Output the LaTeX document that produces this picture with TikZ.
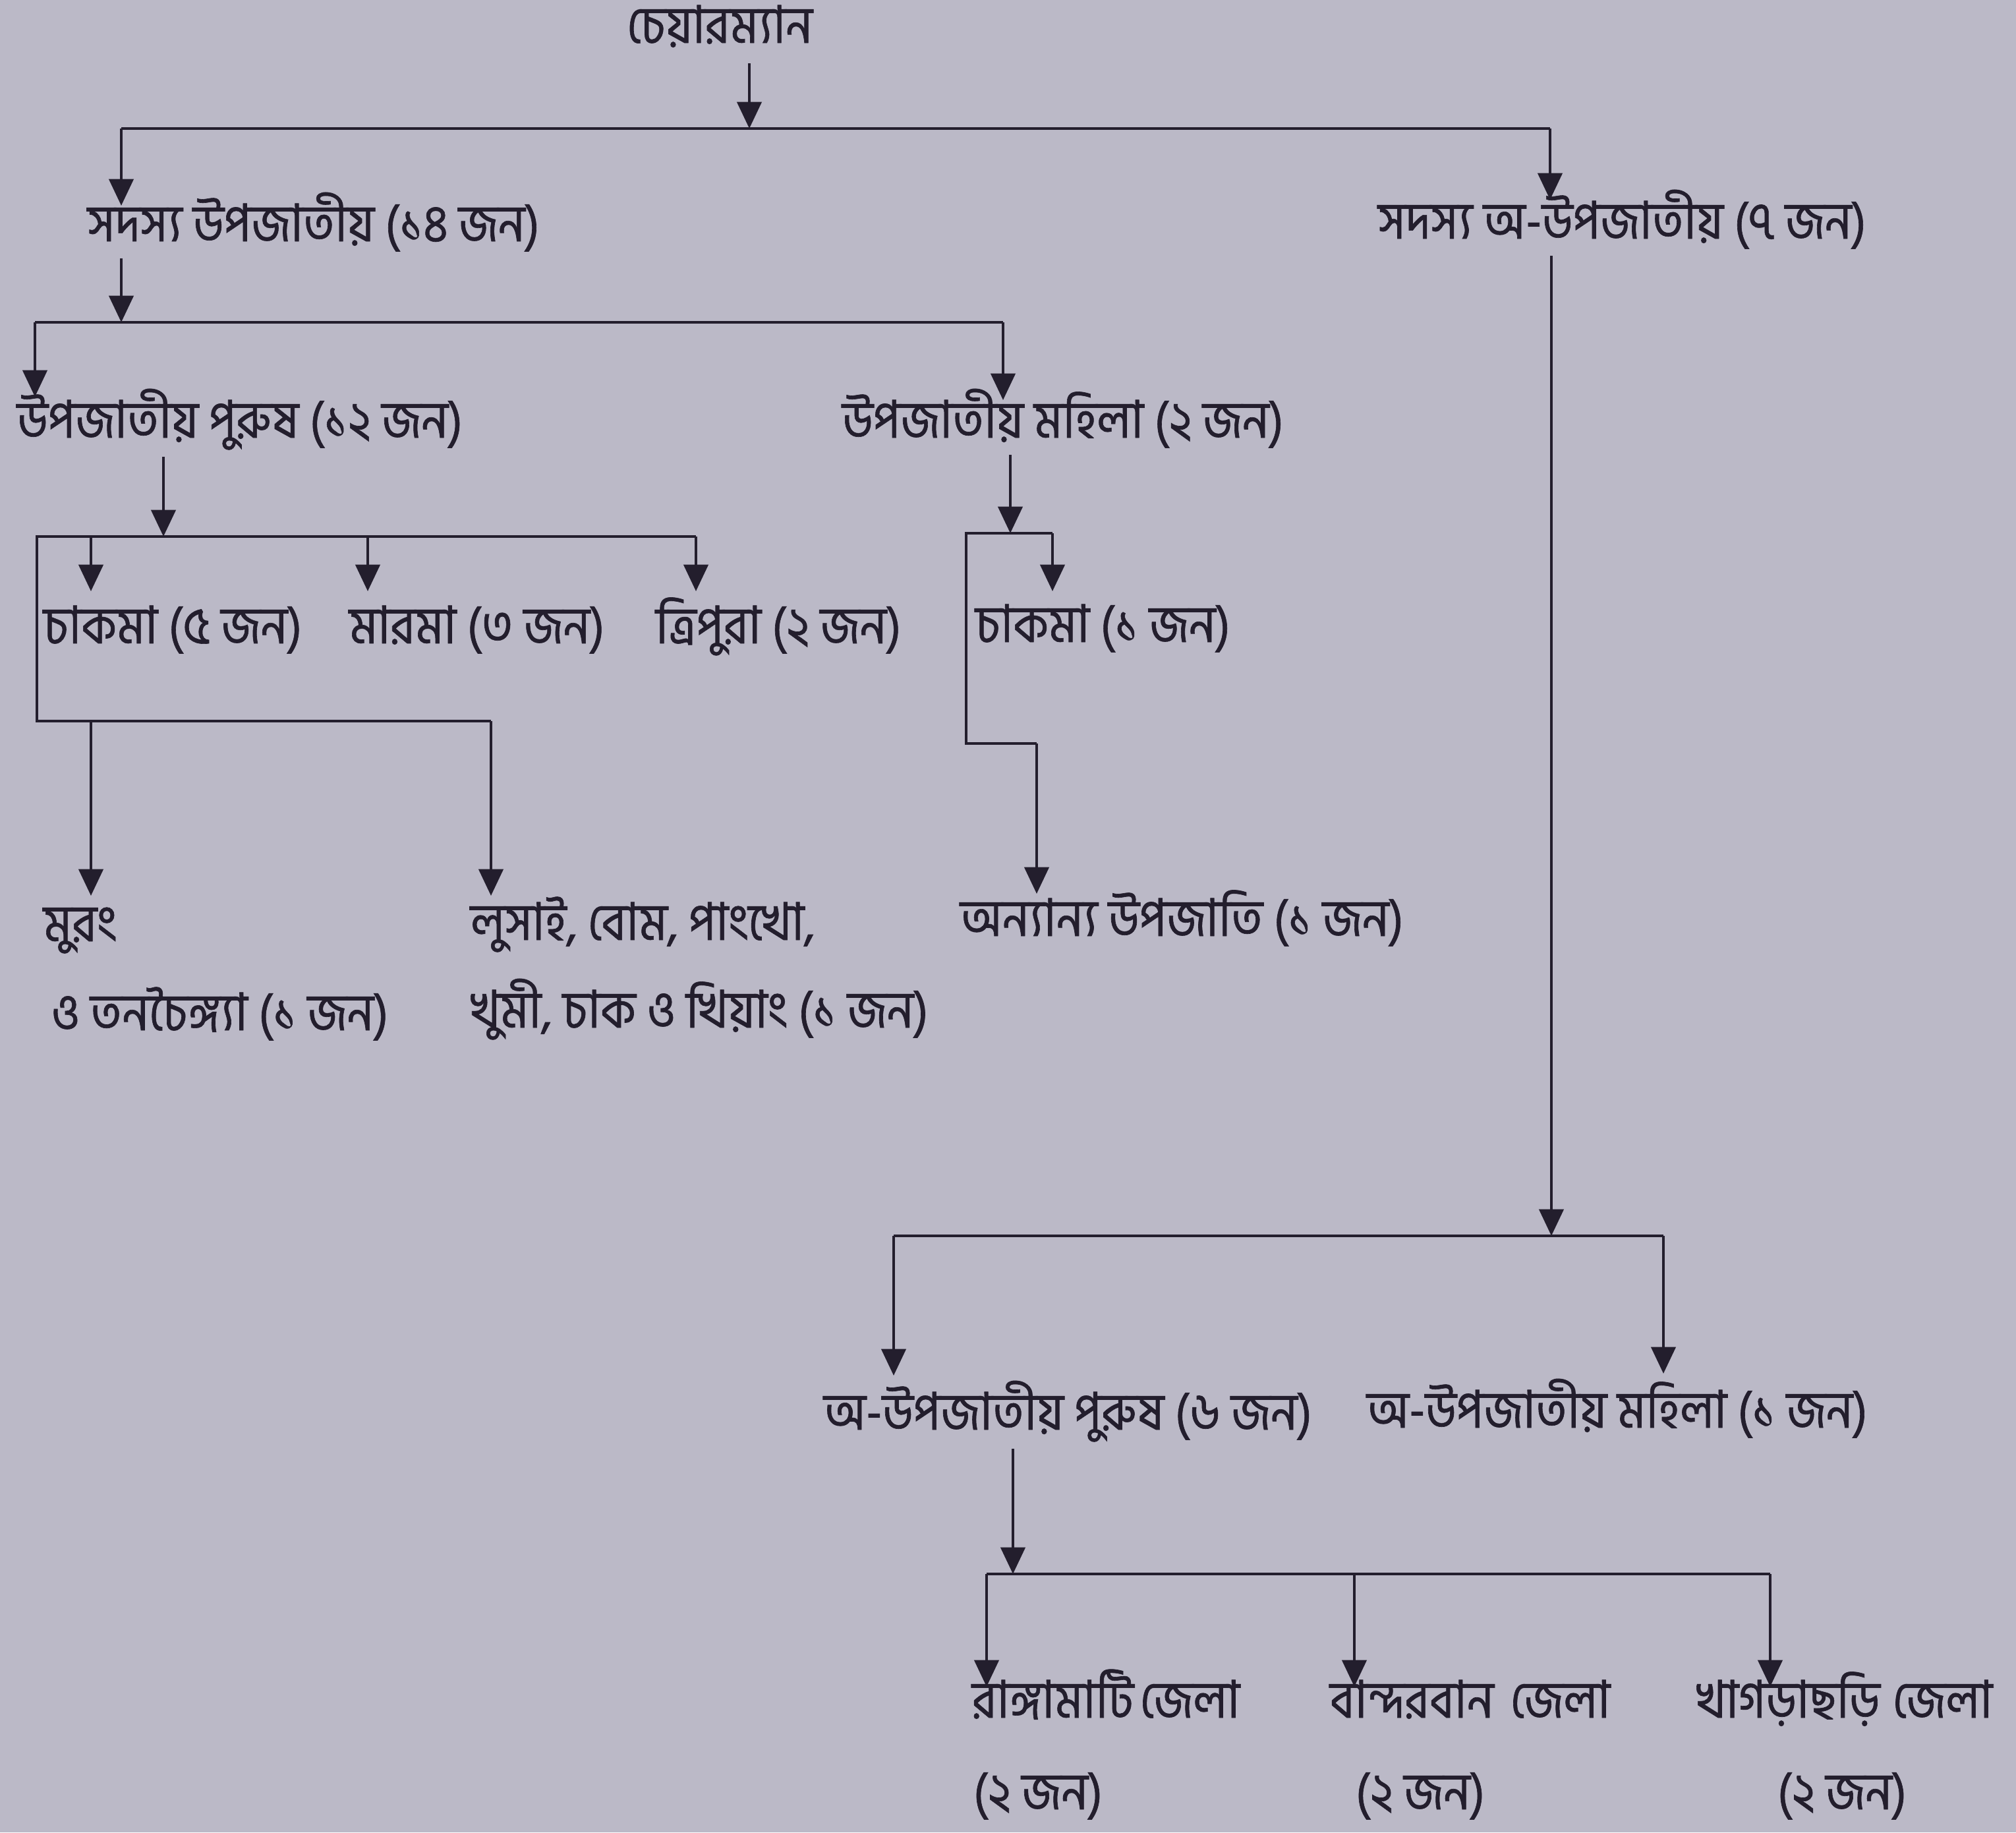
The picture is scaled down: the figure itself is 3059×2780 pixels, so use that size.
\documentclass[tikz,border=0pt]{standalone}
\usepackage{fontspec}
\usetikzlibrary{arrows.meta,calc}
\newfontfamily\bnfont[Script=Bengali,FakeStretch=0.91,FakeBold=0.8]{Hind Siliguri}
\definecolor{bg}{RGB}{187,185,199}
\definecolor{ink}{RGB}{35,30,45}
\begin{document}
\begin{tikzpicture}[x=0.01cm,y=-0.01cm,
  lbl/.style={font=\bnfont\fontsize{22.5}{26}\selectfont, text=ink, inner sep=0pt, outer xsep=0pt, outer ysep=3pt, anchor=base west},
  conn/.style={draw=ink, line width=1.4pt},
  arr/.style={conn, -{Triangle[length=11.5pt,width=10.5pt]}}]
\fill[bg] (0,0) rectangle (3059,2780);
\useasboundingbox (0,0) rectangle (3059,2780);
% nodes
\node[lbl, anchor=base] (chair) at (1092,65) {চেয়ারম্যান};
\node[lbl] (s1) at (133,366) {সদস্য উপজাতীয় (১৪ জন)};
\node[lbl] (s2) at (2091,362) {সদস্য অ-উপজাতীয় (৭ জন)};
\node[lbl] (p1) at (26,664) {উপজাতীয় পুরুষ (১২ জন)};
\node[lbl] (m1) at (1278,664) {উপজাতীয় মহিলা (২ জন)};
\node[lbl] (c1) at (66,976) {চাকমা (৫ জন)};
\node[lbl] (c2) at (530,976) {মারমা (৩ জন)};
\node[lbl] (c3) at (995,976) {ত্রিপুরা (২ জন)};
\node[lbl] (c4) at (1480,974) {চাকমা (১ জন)};
\node[lbl] (mu) at (66,1428) {মুরং};
\node[lbl] (mu2) at (77,1563) {ও তনচৈঙ্গ্যা (১ জন)};
\node[lbl] (lu) at (714,1426) {লুসাই, বোম, পাংখো,};
\node[lbl] (lu2) at (714,1559) {খুমী, চাক ও খিয়াং (১ জন)};
\node[lbl] (on) at (1457,1420) {অন্যান্য উপজাতি (১ জন)};
\node[lbl] (np) at (1250,2169) {অ-উপজাতীয় পুরুষ (৬ জন)};
\node[lbl] (nm) at (2074,2166) {অ-উপজাতীয় মহিলা (১ জন)};
\node[lbl] (d1) at (1475,2606) {\makebox[4.06cm][s]{রাঙ্গামাটি\hfill জেলা}};
\node[lbl] (d2) at (2018,2606) {\makebox[4.25cm][s]{বান্দরবান\hfill জেলা}};
\node[lbl] (d3) at (2574,2606) {\makebox[4.49cm][s]{খাগড়াছড়ি\hfill জেলা}};
\node[lbl, anchor=base] (n1) at (1575,2745) {(২ জন)};
\node[lbl, anchor=base] (n2) at (2155,2745) {(২ জন)};
\node[lbl, anchor=base] (n3) at (2795,2745) {(২ জন)};
% junction coordinates
\coordinate (j0) at (1137,195);
\coordinate (a0) at (184,195);
\coordinate (b0) at (2352,195);
\coordinate (j1) at (184,489);
\coordinate (a1) at (53,489);
\coordinate (b1) at (1522,489);
\coordinate (j2) at (248,814);
\coordinate (a2) at (56,814);
\coordinate (b2) at (558,814);
\coordinate (e2) at (1056,814);
\coordinate (k2) at (138,814);
\coordinate (f2) at (56,1094);
\coordinate (g2) at (138,1094);
\coordinate (h2) at (745,1094);
\coordinate (j3) at (1533,809);
\coordinate (a3) at (1466,809);
\coordinate (b3) at (1597,809);
\coordinate (f3) at (1466,1128);
\coordinate (h3) at (1573,1128);
\coordinate (j4) at (2354,1875);
\coordinate (a4) at (1356,1875);
\coordinate (b4) at (2524,1875);
\coordinate (j5) at (1537,2388);
\coordinate (a5) at (1497,2388);
\coordinate (b5) at (2055,2388);
\coordinate (e5) at (2686,2388);
% connectors
\draw[arr] ([yshift=-4pt]chair.south -| j0) -- (j0);
\draw[conn] (a0) -- (b0);
\draw[arr] (a0) -- ($(a0 |- s1.base)+(0,-54)$);
\draw[arr] (b0) -- ($(b0 |- s2.base)+(0,-59)$);
\draw[arr] (s1.south -| j1) -- (j1);
\draw[conn] (a1) -- (b1);
\draw[arr] (a1) -- ($(a1 |- p1.base)+(0,-62)$);
\draw[arr] (b1) -- ($(b1 |- m1.base)+(0,-57)$);
\draw[arr] (p1.south -| j2) -- (j2);
\draw[conn] (e2) -- (a2) -- (f2) -- (h2);
\draw[arr] (k2) -- ($(k2 |- c1.base)+(0,-79)$);
\draw[arr] (b2) -- ($(b2 |- c2.base)+(0,-79)$);
\draw[arr] (e2) -- ($(e2 |- c3.base)+(0,-79)$);
\draw[arr] (g2) -- ($(g2 |- mu.base)+(0,-69)$);
\draw[arr] (h2) -- ($(h2 |- lu.base)+(0,-67)$);
\draw[arr] (m1.south -| j3) -- (j3);
\draw[conn] (b3) -- (a3) -- (f3) -- (h3);
\draw[arr] (b3) -- ($(b3 |- c4.base)+(0,-77)$);
\draw[arr] (h3) -- ($(h3 |- on.base)+(0,-64)$);
\draw[arr] (s2.south -| j4) -- (j4);
\draw[conn] (a4) -- (b4);
\draw[arr] (a4) -- ($(a4 |- np.base)+(0,-82)$);
\draw[arr] (b4) -- ($(b4 |- nm.base)+(0,-82)$);
\draw[arr] (np.south -| j5) -- (j5);
\draw[conn] (a5) -- (e5);
\draw[arr] (a5) -- ($(a5 |- d1.base)+(0,-47)$);
\draw[arr] (b5) -- ($(b5 |- d2.base)+(0,-47)$);
\draw[arr] (e5) -- ($(e5 |- d3.base)+(0,-47)$);
\end{tikzpicture}
\end{document}
